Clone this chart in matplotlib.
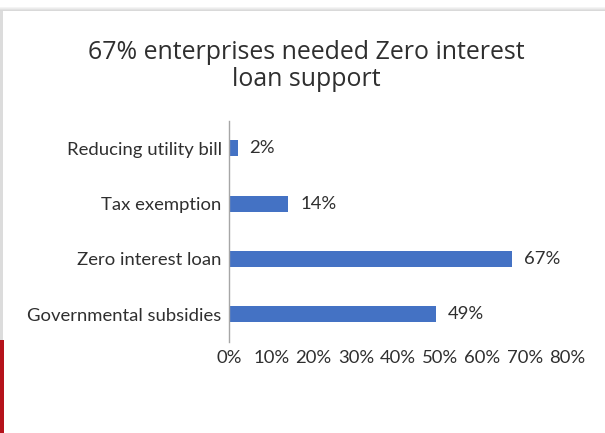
import matplotlib
matplotlib.use("Agg")
import matplotlib.pyplot as plt
from matplotlib.patches import Rectangle
from matplotlib.ticker import PercentFormatter

# ---------------- data ----------------
categories = ["Reducing utility bill", "Tax exemption",
              "Zero interest loan", "Governmental subsidies"]
shares = [2, 14, 67, 49]          # percent of enterprises
x_ticks = [0, 10, 20, 30, 40, 50, 60, 70, 80]

title_lines = ["67% enterprises needed Zero interest", "loan support"]

BAR_BLUE = "#4472C4"
TEXT_DARK = "#2f2f2f"
LABEL_FONT = "Lato"
TITLE_FONT = "Open Sans"

W, H = 605, 433
fig = plt.figure(figsize=(W / 100, H / 100), dpi=100)
fig.patch.set_facecolor("white")

# card shadow along the top and left edge, red accent at the bottom left
for i, c in enumerate(["#f4f4f4", "#ececec", "#e2e2e2", "#d9d9d9"]):
    fig.add_artist(Rectangle((0, 1 - (8 + i) / H), 1, 1 / H,
                             transform=fig.transFigure, color=c, lw=0))
fig.add_artist(Rectangle((0, 1 - 340 / H), 3 / W, (340 - 11) / H,
                         transform=fig.transFigure, color="#dcdcdc", lw=0))
fig.add_artist(Rectangle((0, 0), 3.5 / W, 1 - 340 / H,
                         transform=fig.transFigure, color="#b5121b", lw=0))

# ---------------- chart ----------------
ax = fig.add_axes([229.3 / W, 1 - 341.7 / H, 337.7 / W, 221 / H])
ypos = range(len(categories))
ax.barh(ypos, shares, height=0.29, color=BAR_BLUE)
ax.set_ylim(-0.5, len(categories) - 0.5)
ax.invert_yaxis()
ax.set_xlim(0, 80)

ax.set_yticks(list(ypos))
ax.set_yticklabels(categories)
ax.set_xticks(x_ticks)
ax.xaxis.set_major_formatter(PercentFormatter(decimals=0))

for y, v in zip(ypos, shares):
    ax.annotate(f"{v}%", (v, y), xytext=(8.5, 0), textcoords="offset points",
                va="center", ha="left", fontsize=13.3, family=LABEL_FONT,
                color=TEXT_DARK)

for side in ["top", "right", "bottom"]:
    ax.spines[side].set_visible(False)
ax.spines["left"].set_color("#a6a6a6")
ax.spines["left"].set_linewidth(1)

ax.tick_params(axis="both", length=0, labelsize=13.3, labelcolor=TEXT_DARK)
ax.tick_params(axis="y", pad=5.5)
ax.tick_params(axis="x", pad=6)
for lab in ax.get_xticklabels() + ax.get_yticklabels():
    lab.set_family(LABEL_FONT)

# two-line title
fig.text(305.9 / W, 1 - 59.3 / H, title_lines[0], ha="center", va="baseline",
         fontsize=17.9, family=TITLE_FONT, color=TEXT_DARK)
fig.text(305.9 / W, 1 - 86 / H, title_lines[1], ha="center", va="baseline",
         fontsize=17.9, family=TITLE_FONT, color=TEXT_DARK)

fig.savefig("out.png", dpi=100)
